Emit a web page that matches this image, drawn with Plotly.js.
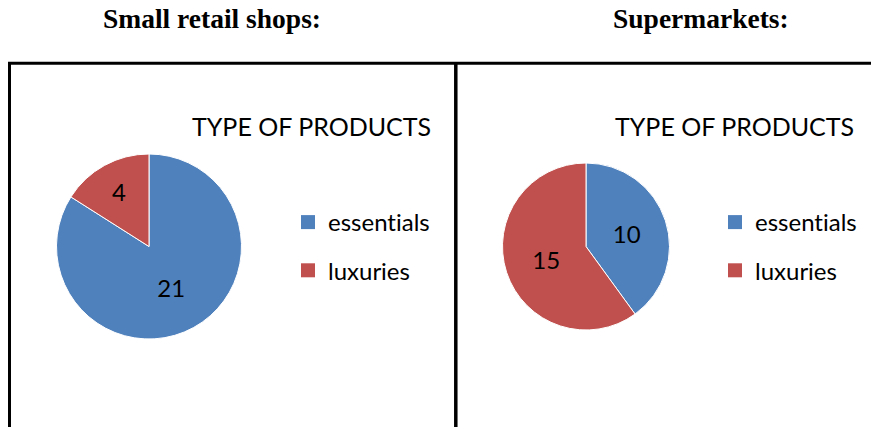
<!DOCTYPE html>
<html><head><meta charset="utf-8">
<script src="https://cdn.plot.ly/plotly-3.0.1.min.js"></script>
<style>html,body{margin:0;padding:0;background:#fff;} #chart{width:871px;height:427px;}
#chart text{font-variant-ligatures:none;font-feature-settings:"liga" 0;}</style>
</head><body><div id="chart"></div>
<script>
const categories = ['essentials', 'luxuries'];
const smallShopValues = [21, 4];
const supermarketValues = [10, 15];
const panelTitles = ['Small retail shops:', 'Supermarkets:'];
const chartTitle = 'TYPE OF PRODUCTS';
const sliceColors = ['#4F81BD', '#C0504D'];

const W = 871, H = 427;
const px = x => x / W;
const py = y => 1 - y / H;
const sans = 'Lato, "Open Sans", sans-serif';

function pieTrace(values, x0, x1, y0, y1) {
  return {type: 'pie', labels: categories, values: values, sort: false,
    direction: 'clockwise', rotation: 0,
    marker: {colors: sliceColors, line: {color: '#ffffff', width: 1}},
    textinfo: 'value', textposition: 'inside', insidetextorientation: 'horizontal',
    textfont: {family: sans, size: 24, color: '#000000'},
    showlegend: false, hoverinfo: 'label+value',
    domain: {x: [px(x0), px(x1)], y: [py(y1), py(y0)]}};
}

function legendTraces(legendId) {
  return categories.map((c, i) => ({type: 'scatter', mode: 'markers', x: [null], y: [null],
    name: c, marker: {symbol: 'square', size: 14, color: sliceColors[i]},
    legend: legendId, legendgroup: legendId + '_' + c, showlegend: true, hoverinfo: 'skip'}));
}

const data = [
  pieTrace(smallShopValues, 56.5, 241.5, 154, 339),
  pieTrace(supermarketValues, 502.5, 669.5, 163, 330),
  ...legendTraces('legend'),
  ...legendTraces('legend2')
];

const legendBase = {xanchor: 'left', yanchor: 'top', font: {family: sans, size: 24, color: '#000000'},
  tracegroupgap: 14, traceorder: 'grouped', bgcolor: 'rgba(0,0,0,0)', borderwidth: 0};

const layout = {
  width: W, height: H,
  margin: {l: 0, r: 0, t: 0, b: 0},
  paper_bgcolor: '#ffffff', plot_bgcolor: '#ffffff',
  xaxis: {visible: false}, yaxis: {visible: false},
  legend: Object.assign({}, legendBase, {x: px(288), y: py(200)}),
  legend2: Object.assign({}, legendBase, {x: px(715), y: py(200)}),
  annotations: [
    {text: '<b>' + panelTitles[0] + '</b>', x: px(212), y: py(18.5), xref: 'paper', yref: 'paper',
      xanchor: 'center', yanchor: 'middle', showarrow: false,
      font: {family: '"Liberation Serif", "Times New Roman", serif', size: 27.5, color: '#000000'}},
    {text: '<b>' + panelTitles[1] + '</b>', x: px(701), y: py(18.5), xref: 'paper', yref: 'paper',
      xanchor: 'center', yanchor: 'middle', showarrow: false,
      font: {family: '"Liberation Serif", "Times New Roman", serif', size: 27.5, color: '#000000'}},
    {text: chartTitle, x: px(311.5), y: py(126), xref: 'paper', yref: 'paper',
      xanchor: 'center', yanchor: 'middle', showarrow: false,
      font: {family: sans, size: 25, color: '#000000'}},
    {text: chartTitle, x: px(734), y: py(126), xref: 'paper', yref: 'paper',
      xanchor: 'center', yanchor: 'middle', showarrow: false,
      font: {family: sans, size: 25, color: '#000000'}}
  ],
  shapes: [
    {type: 'line', xref: 'paper', yref: 'paper', x0: px(8), x1: 1, y0: py(63.3), y1: py(63.3),
      line: {color: '#000000', width: 3}},
    {type: 'line', xref: 'paper', yref: 'paper', x0: px(9.5), x1: px(9.5), y0: py(62), y1: 0,
      line: {color: '#000000', width: 3}},
    {type: 'line', xref: 'paper', yref: 'paper', x0: px(455.8), x1: px(455.8), y0: py(62), y1: 0,
      line: {color: '#000000', width: 3.5}}
  ]
};

Plotly.newPlot('chart', data, layout, {staticPlot: true, displayModeBar: false});
</script>
</body></html>
